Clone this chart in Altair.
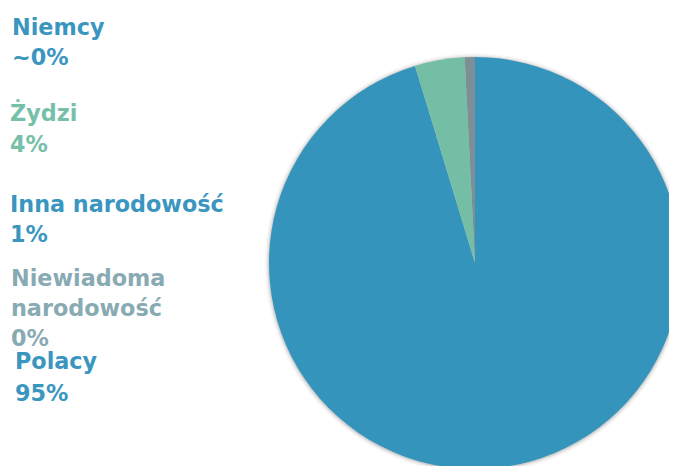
import altair as alt
import pandas as pd

# ---- data ----
categories = ["Polacy", "Żydzi", "Inna narodowość", "Niemcy", "Niewiadoma narodowość"]
shares = [95.3, 3.9, 0.8, 0.0, 0.0]
slice_colors = ["#3594BC", "#74BEA6", "#7D8F96", "#3594BC", "#85A9B3"]

label_names = ["Niemcy", "Żydzi", "Inna narodowość", "Niewiadoma\nnarodowość", "Polacy"]
label_values = ["~0%", "4%", "1%", "0%", "95%"]
label_colors = ["#3A96BF", "#76BFA8", "#3A96BF", "#88AAB3", "#3A96BF"]

df = pd.DataFrame({"category": categories, "share": shares, "order": list(range(len(categories)))})

W, H = 661, 458
CX, CY, R = 467, 255, 206

shadow_src = alt.Data(values=[{"s": 1}])
shadows = []
for dr, op in [(4.5, 0.025), (3, 0.04), (1.8, 0.06), (0.8, 0.08)]:
    shadows.append(
        alt.Chart(shadow_src).mark_arc(radius=R + dr, theta=0, theta2=6.2832,
                                       color="#000000", opacity=op)
        .encode(x=alt.value(CX), y=alt.value(CY + 0.5))
    )

pie = alt.Chart(df).mark_arc(radius=R, stroke=None).encode(
    x=alt.value(CX),
    y=alt.value(CY),
    theta=alt.Theta("share:Q", stack=True),
    order=alt.Order("order:Q", sort="ascending"),
    color=alt.Color("category:N", scale=alt.Scale(domain=categories, range=slice_colors), legend=None),
)

# label layout (positions in view coords)
label_x = [4, 2, 2, 3, 7]
label_y = [27, 113, 204, 278, 361]
label_lh = [30, 31, 30, 30, 32]

texts = []
for i in range(len(label_names)):
    tdf = pd.DataFrame({"t": [label_names[i] + "\n" + label_values[i]]})
    texts.append(
        alt.Chart(tdf).mark_text(
            align="left", baseline="alphabetic", font="DejaVu Sans", fontWeight="bold",
            fontSize=22.3, lineBreak="\n", lineHeight=label_lh[i], color=label_colors[i]
        ).encode(x=alt.value(label_x[i]), y=alt.value(label_y[i]), text="t:N")
    )

chart = alt.layer(*shadows, pie, *texts).properties(
    width=W, height=H, autosize=alt.AutoSizeParams(type="none"), padding=0
).configure_view(stroke=None)

chart.save("out.html", embed_options={"renderer": "svg", "actions": False})
